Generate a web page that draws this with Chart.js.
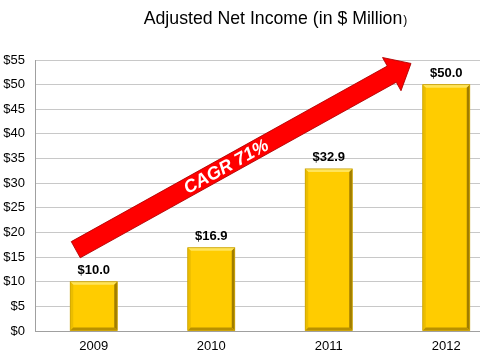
<!DOCTYPE html>
<html><head><meta charset="utf-8">
<script src="https://cdn.jsdelivr.net/npm/chart.js@4/dist/chart.umd.min.js"></script>
<style>
html,body{margin:0;padding:0;background:#fff;overflow:hidden;width:480px;height:355px;}
#wrap{position:relative;width:510px;height:355px;}
</style></head>
<body><div id="wrap"><canvas id="c" width="510" height="355"></canvas></div>
<script>
const categories = ['2009', '2010', '2011', '2012'];
const netIncome = [10.0, 16.9, 32.9, 50.0];
const valueLabels = ['$10.0', '$16.9', '$32.9', '$50.0'];
const titleText = 'Adjusted Net Income (in $ Million';
const arrowText = 'CAGR 71%';
// arrow anchors in data space: [category index, value]
const arrowFrom = [-0.153, 16.5];
const arrowTo = [2.7, 54.3];

const FONT = '"Liberation Sans", Arial, sans-serif';

const deco = {
  id: 'deco',
  afterDatasetsDraw(chart) {
    const ctx = chart.ctx;
    const meta = chart.getDatasetMeta(0);
    const xs = chart.scales.x, ys = chart.scales.y;
    meta.data.forEach((bar, i) => {
      const l = bar.x - bar.width / 2, r = bar.x + bar.width / 2, t = bar.y, b = bar.base;
      const e = 3;
      ctx.save();
      ctx.fillStyle = '#FFE45A';
      ctx.beginPath(); ctx.moveTo(l, t); ctx.lineTo(r, t); ctx.lineTo(r - e, t + e); ctx.lineTo(l + e, t + e); ctx.closePath(); ctx.fill();
      ctx.fillStyle = '#EBBD00';
      ctx.beginPath(); ctx.moveTo(l, t); ctx.lineTo(l + e, t + e); ctx.lineTo(l + e, b - e); ctx.lineTo(l, b); ctx.closePath(); ctx.fill();
      ctx.fillStyle = '#A07D00';
      ctx.beginPath(); ctx.moveTo(r, t); ctx.lineTo(r - e, t + e); ctx.lineTo(r - e, b - e); ctx.lineTo(r, b); ctx.closePath(); ctx.fill();
      ctx.fillStyle = '#B89000';
      ctx.beginPath(); ctx.moveTo(l, b); ctx.lineTo(l + e, b - e); ctx.lineTo(r - e, b - e); ctx.lineTo(r, b); ctx.closePath(); ctx.fill();
      ctx.strokeStyle = '#C9A000'; ctx.lineWidth = 0.8;
      ctx.strokeRect(l, t, r - l, b - t);
      ctx.restore();
      ctx.save();
      ctx.font = 'bold 13px ' + FONT;
      ctx.fillStyle = '#000';
      ctx.textAlign = 'center'; ctx.textBaseline = 'bottom';
      ctx.fillText(valueLabels[i], bar.x, t - 5);
      ctx.restore();
    });
    const x0 = xs.getPixelForValue(arrowFrom[0]), y0 = ys.getPixelForValue(arrowFrom[1]);
    const x1 = xs.getPixelForValue(arrowTo[0]), y1 = ys.getPixelForValue(arrowTo[1]);
    const ang = Math.atan2(y1 - y0, x1 - x0);
    const len = Math.hypot(x1 - x0, y1 - y0);
    const sw = 18.5, hw = 38, hl = 22;
    ctx.save();
    ctx.translate(x0, y0); ctx.rotate(ang);
    ctx.beginPath();
    ctx.moveTo(0, -sw / 2);
    ctx.lineTo(len - hl, -sw / 2);
    ctx.lineTo(len - hl, -hw / 2);
    ctx.lineTo(len, 0);
    ctx.lineTo(len - hl, hw / 2);
    ctx.lineTo(len - hl, sw / 2);
    ctx.lineTo(0, sw / 2);
    ctx.closePath();
    ctx.fillStyle = '#FF0000'; ctx.fill();
    ctx.strokeStyle = '#B00000'; ctx.lineWidth = 0.8; ctx.stroke();
    ctx.font = 'italic bold 18px ' + FONT;
    ctx.fillStyle = '#FFFFFF';
    ctx.textAlign = 'center'; ctx.textBaseline = 'middle';
    ctx.fillText(arrowText, len * 0.448, 1);
    ctx.restore();
    ctx.save();
    ctx.fillStyle = '#000';
    ctx.font = '17.7px ' + FONT;
    ctx.textBaseline = 'alphabetic';
    const w1 = ctx.measureText(titleText).width;
    ctx.font = '12px ' + FONT;
    const w2 = ctx.measureText(')').width;
    const sx = 275 - (w1 + w2) / 2;
    ctx.font = '17.7px ' + FONT;
    ctx.fillText(titleText, sx, 24);
    ctx.font = '12px ' + FONT;
    ctx.fillText(')', sx + w1 + 1, 24);
    ctx.restore();
  }
};

new Chart(document.getElementById('c'), {
  type: 'bar',
  data: {
    labels: categories,
    datasets: [{
      data: netIncome,
      backgroundColor: '#FFCC00',
      borderWidth: 0,
      categoryPercentage: 1,
      barPercentage: 0.4
    }]
  },
  options: {
    responsive: false,
    animation: false,
    layout: { padding: { top: 60, right: 5, left: 0, bottom: 0 } },
    plugins: { legend: { display: false }, tooltip: { enabled: false }, title: { display: false } },
    scales: {
      x: {
        grid: { display: false, drawTicks: false },
        border: { color: '#A0A0A0', width: 1 },
        ticks: { color: '#000', font: { family: FONT, size: 13 }, padding: 8 },
        afterFit(s) { s.height = 24; }
      },
      y: {
        min: 0, max: 55,
        grid: { color: '#C8C8C8', lineWidth: 1, drawTicks: false },
        border: { color: '#A0A0A0', width: 1 },
        ticks: { stepSize: 5, color: '#000', font: { family: FONT, size: 13 }, padding: 10,
          callback: v => '$' + v },
        afterFit(s) { s.width = 35; }
      }
    }
  },
  plugins: [deco]
});
</script></body></html>
